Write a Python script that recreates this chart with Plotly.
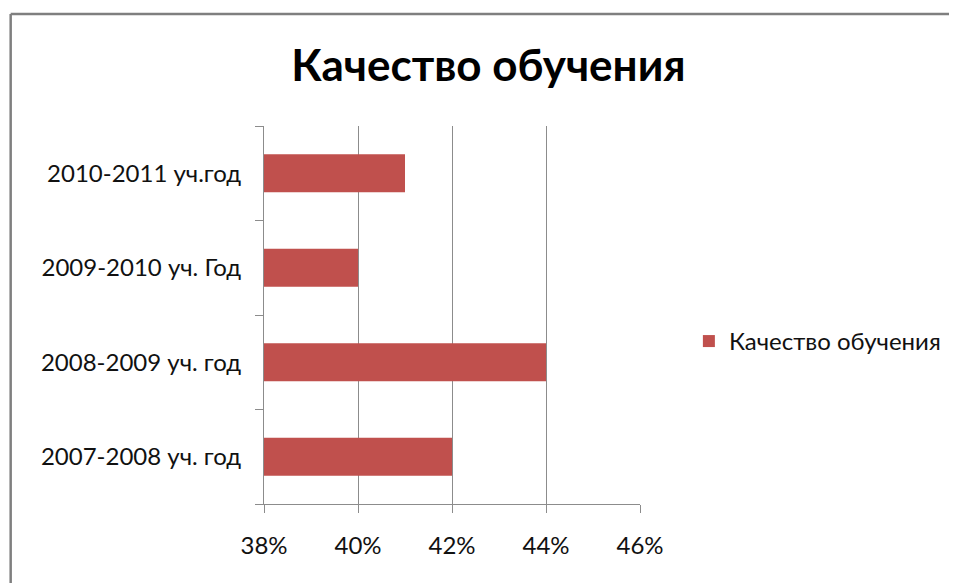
import plotly.graph_objects as go

categories = ["2007-2008 уч. год", "2008-2009 уч. год", "2009-2010 уч. Год", "2010-2011 уч.год"]
values = [0.42, 0.44, 0.40, 0.41]
series_name = "Качество обучения"
title_text = "Качество обучения"
x_ticks = [0.38, 0.40, 0.42, 0.44, 0.46]

FONT = "Lato, 'Open Sans', sans-serif"
GRID = "#8c8c8c"

# page has an 8px body margin; plot area should sit at page x 264..641, y 126..504
L, T = 256, 118
PW, PH = 377, 378
W, H = 949, 575

bx0 = (10 - 264) / PW
bx1 = (990 - 264) / PW
by0 = -(700 - 504) / PH
by1 = 1 + (126 - 14) / PH
border = dict(color="#7f7f7f", width=2.5)

fig = go.Figure()
fig.add_trace(go.Bar(
    y=categories, x=values, orientation="h", name=series_name,
    marker=dict(color="#C0504D", line=dict(color="#C0504D", width=0)),
    showlegend=True,
))

fig.update_layout(
    width=W, height=H,
    paper_bgcolor="white", plot_bgcolor="white",
    margin=dict(l=L, r=W - L - PW, t=T, b=H - T - PH),
    bargap=0.6,
    font=dict(family=FONT, size=24, color="#111111"),
    title=dict(text=title_text, x=(489 - 8 - L) / PW, xref="paper", xanchor="center",
               y=1 - 58 / H, yanchor="middle",
               font=dict(family=FONT, size=44, color="black", weight="bold")),
    showlegend=True,
    legend=dict(x=1.127, y=0.43, xanchor="left", yanchor="middle",
                font=dict(family=FONT, size=24, color="#111111"),
                itemwidth=30, bgcolor="rgba(0,0,0,0)"),
    xaxis=dict(range=[0.38, 0.46], tickvals=x_ticks, tickformat=".0%",
               showgrid=True, gridcolor=GRID, gridwidth=1,
               showline=True, linecolor=GRID, linewidth=1,
               ticks="outside", ticklen=8, tickcolor=GRID, ticklabelstandoff=12,
               zeroline=False, fixedrange=True),
    yaxis=dict(type="category", categoryorder="array", categoryarray=categories,
               showline=True, linecolor=GRID, linewidth=1,
               ticks="outside", ticklen=8, tickcolor=GRID, tickson="boundaries",
               showgrid=False, ticklabelstandoff=17, fixedrange=True),
    shapes=[
        dict(type="line", xref="paper", yref="paper", x0=bx0, x1=bx1, y0=by1, y1=by1,
             line=border, layer="below"),
        dict(type="line", xref="paper", yref="paper", x0=bx0, x1=bx0, y0=by0, y1=by1,
             line=border, layer="below"),
    ],
)

fig.write_html("out.html")
